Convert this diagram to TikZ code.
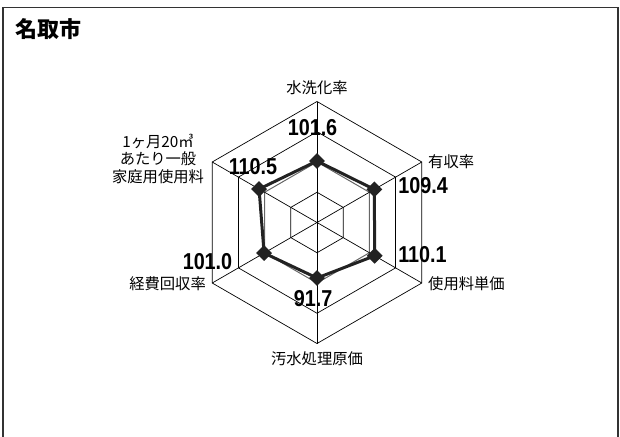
\documentclass[tikz,border=0pt]{standalone}
\usepackage{fontspec}
\setmainfont{Liberation Sans}
\newfontfamily\cjk{Noto Sans CJK JP}
\newfontfamily\numfont[FakeStretch=0.86]{Liberation Sans}
\usetikzlibrary{shapes.geometric}
\definecolor{framegray}{HTML}{333333}
\definecolor{dark}{HTML}{222222}
\tikzset{
  axlabel/.style={font=\cjk\fontsize{15.3}{17.5}\selectfont, inner sep=0pt, align=center},
  val/.style={font=\numfont\bfseries\fontsize{23}{23}\selectfont, inner sep=0pt},
  mk/.style={diamond, fill=dark, draw=none, inner sep=0pt, minimum size=16pt},
  ring/.style={draw=black, line width=0.7pt},
  ringmid/.style={draw=black!60, line width=1pt},
  spoke/.style={draw=black, line width=0.7pt},
  series/.style={draw=dark, line width=3pt, line join=round},
  framel/.style={draw=framegray, line width=1.5pt}
}
\begin{document}
\begin{tikzpicture}[x=1pt,y=-1pt]
\useasboundingbox (0,0) rectangle (620,436);
\draw[framel] (3,437) -- (3,7.5) -- (618,7.5) -- (618,437);
\node[font=\cjk\bfseries\fontsize{22}{22}\selectfont, inner sep=0pt] (title) at (48.5,29) {名取市};

\begin{scope}[shift={(317,222.5)}, x=1pt, y=1pt]
  \coordinate (c) at (0,0);
  \foreach \a/\n in {90/A,30/B,-30/C,-90/D,210/E,150/F} {
    \coordinate (o\n) at (\a:121);
  }
  \foreach \r in {30.25,90.75,121} {
    \draw[ring] (90:\r) -- (30:\r) -- (-30:\r) -- (-90:\r) -- (210:\r) -- (150:\r) -- cycle;
  }
  \draw[ringmid] (90:60.5) -- (30:60.5) -- (-30:60.5) -- (-90:60.5) -- (210:60.5) -- (150:60.5) -- cycle;
  \foreach \n in {A,B,C,D,E,F} { \draw[spoke] (c) -- (o\n); }
  \coordinate (p1) at (90:61.5);
  \coordinate (p2) at (30:66.2);
  \coordinate (p3) at (-30:66.6);
  \coordinate (p4) at (-90:55.5);
  \coordinate (p5) at (210:61.1);
  \coordinate (p6) at (150:66.9);
  \draw[series] (p1) -- (p2) -- (p3) -- (p4) -- (p5) -- (p6) -- cycle;
  \foreach \i in {1,...,6} { \node[mk] (m\i) at (p\i) {}; }
\end{scope}

\node[axlabel] (l1) at (317,87.5) {水洗化率};
\node[axlabel, anchor=west] (l2) at (428,162) {有収率};
\node[axlabel, anchor=west] (l3) at (428,283.5) {使用料単価};
\node[axlabel] (l4) at (317,359) {汚水処理原価};
\node[axlabel, anchor=east] (l5) at (206,283.5) {経費回収率};
\node[axlabel] (l6) at (158,158.5) {1ヶ月20㎥\\あたり一般\\家庭用使用料};

\node[val] (v1) at (312.5,128) {101.6};
\node[val] (v2) at (423,186) {109.4};
\node[val] (v3) at (422.5,255) {110.1};
\node[val] (v4) at (313,298.5) {91.7};
\node[val] (v5) at (207.5,261.5) {101.0};
\node[val] (v6) at (253,166.5) {110.5};
\end{tikzpicture}
\end{document}
